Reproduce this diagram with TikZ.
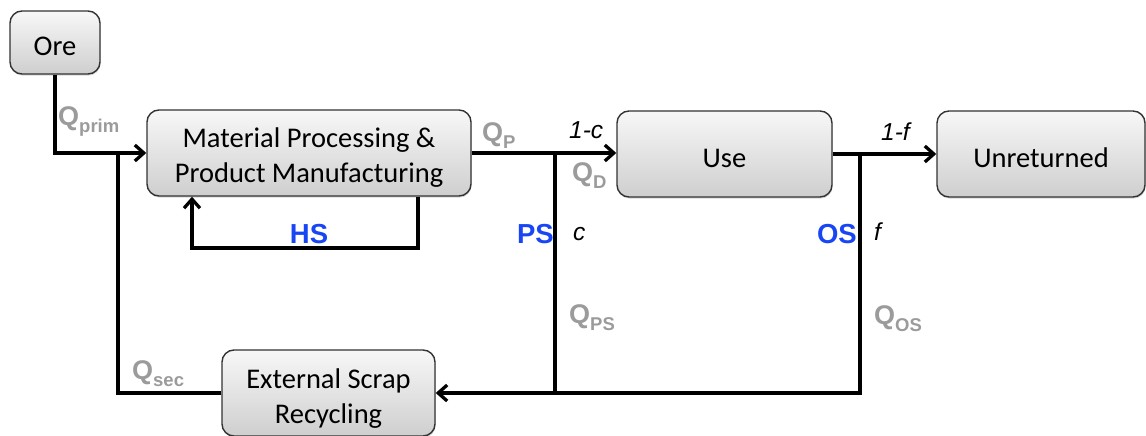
\documentclass[tikz,border=0pt]{standalone}
\usepackage{fontspec}
\setmainfont{Carlito}
\newfontfamily\labfont{Liberation Sans}
\usetikzlibrary{arrows.meta,shadows}
\definecolor{flowgray}{HTML}{9B9B9B}
\definecolor{scrapblue}{RGB}{25,70,245}
% flow quantity label: bold grey Q with a lowered subscript
\newcommand\qflow[1]{{\labfont\bfseries\color{flowgray}\fontsize{27}{27}\selectfont Q\raisebox{-7pt}{\fontsize{18.5}{18.5}\selectfont #1}}}
% tall strut that sets box text a little below the box centre
\newcommand\boxstrut[1][27pt]{\rule{0pt}{#1}}

\begin{document}
\begin{tikzpicture}[x=1pt,y=-1pt,
  proc/.style={draw=black!80, line width=1.4pt, rounded corners=12pt,
    top color=gray!6, bottom color=gray!38,
    drop shadow={shadow xshift=0.6pt, shadow yshift=-1.6pt, opacity=0.3},
    font=\fontsize{28.5}{35}\selectfont, align=center, inner sep=0pt},
  flow/.style={line width=3.3pt, black},
  arr/.style={flow, -{Straight Barb[length=9pt,width=16pt]}},
  qlab/.style={anchor=base west, inner sep=0pt},
  frac/.style={anchor=base west, inner sep=0pt, font=\labfont\itshape\fontsize{24.5}{24.5}\selectfont},
  scrap/.style={anchor=base east, inner sep=0pt, text=scrapblue, font=\labfont\bfseries\fontsize{27.5}{27.5}\selectfont}]

\useasboundingbox (0,0) rectangle (1146,436);

% process boxes
\node[proc, minimum width=90pt, minimum height=63pt] (ore) at (55,42.5) {\boxstrut Ore};
\node[proc, minimum width=324pt, minimum height=86pt] (mfg) at (309,153) {\boxstrut[29pt]Material Processing \&\\Product Manufacturing};
\node[proc, minimum width=215pt, minimum height=86pt] (use) at (724.5,154) {\boxstrut Use};
\node[proc, minimum width=208pt, minimum height=86pt] (unret) at (1041,154) {\boxstrut Unreturned};
\node[proc, minimum width=213pt, minimum height=86pt] (esr) at (328.5,393) {\boxstrut[31pt]External Scrap\\Recycling};

% junctions
\coordinate (inj) at (118,153);
\coordinate (psj) at (555,153);
\coordinate (osj) at (860,154);
\coordinate (hsa) at (418,248);
\coordinate (hsb) at (192,248);

% flows
\draw[arr] (ore.south) |- (mfg.west);
\draw[flow] (esr.west) -| (inj);
\draw[arr] (mfg.east) -- (use.west |- mfg.east);
\draw[flow] (psj) -- (psj |- esr.east);
\draw[arr] (use.east) -- (unret.west);
\draw[arr] (osj) |- (esr.east);
\draw[arr] (mfg.south -| hsa) -- (hsa) -- (hsb) -- (mfg.south -| hsb);

% flow labels
\node[qlab] (qprim) at (58,125) {\qflow{prim}};
\node[qlab] (qp) at (482,141) {\qflow{P}};
\node[qlab] (qd) at (572,181) {\qflow{D}};
\node[qlab] (qps) at (569,323) {\qflow{PS}};
\node[qlab] (qos) at (874,324) {\qflow{OS}};
\node[qlab] (qsec) at (132,379) {\qflow{sec}};

% split fractions
\node[frac] (onec) at (569,138) {1-c};
\node[frac] (onef) at (881,140) {1-f};
\node[frac] (cfr) at (573,240) {c};
\node[frac] (ffr) at (874,240) {f};

% scrap types
\node[scrap] (ps) at (554,243) {PS};
\node[scrap] (os) at (857,243) {OS};
\node[scrap, anchor=base] (hs) at (309,243) {HS};
\end{tikzpicture}
\end{document}
